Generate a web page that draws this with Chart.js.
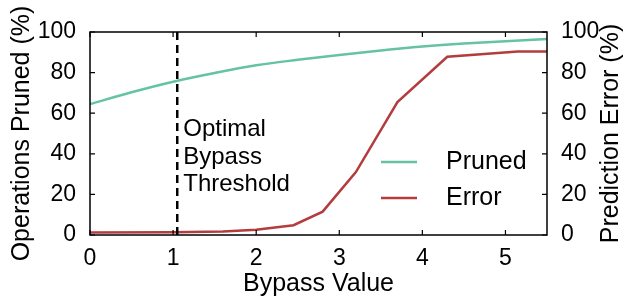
<!DOCTYPE html>
<html>
<head>
<meta charset="utf-8">
<script src="https://cdn.jsdelivr.net/npm/chart.js@4.4.0/dist/chart.umd.min.js"></script>
<style>
    html, body { margin: 0; padding: 0; background: #ffffff; }
    #wrap { width: 634px; height: 297px; }
</style>
</head>
<body>
<div id="wrap"><canvas id="grafico" width="634" height="297"></canvas></div>
<script>
// valores
const prunedX = [0, 0.5, 1.0, 1.5, 2.0, 2.5, 3.0, 3.5, 4.0, 4.5, 5.0, 5.5];
const prunedY = [64.5, 70.3, 75.5, 79.8, 83.6, 86.3, 88.7, 90.9, 92.8, 94.3, 95.5, 96.5];

const errorX = [0, 1.0, 1.6, 2.0, 2.45, 2.8, 3.2, 3.7, 4.3, 5.15, 5.5];
const errorY = [1.2, 1.4, 1.7, 2.6, 4.8, 11.5, 31, 65.5, 87.8, 90.4, 90.4];

const xTicks = [0, 1, 2, 3, 4, 5];
const yTicks = [0, 20, 40, 60, 80, 100];

const limiar = 1.05;
const textoLimiar = ['Optimal', 'Bypass', 'Threshold'];

const legendaNomes = ['Pruned', 'Error'];
const tituloDireita = 'Prediction Error (%)';
const verde = '#66c2a5';
const vermelho = '#b33c3f';

const fonte = 'Liberation Sans, Arial, sans-serif';
Chart.defaults.color = '#000000';
Chart.defaults.font.family = fonte;
Chart.defaults.font.size = 23;

function pares(xs, ys) {
    return xs.map((x, i) => ({ x: x, y: ys[i] }));
}

// moldura, ticks para dentro, linha tracejada, texto e legenda
const extras = {
    id: 'extras',
    afterDraw(chart) {
        const ctx = chart.ctx;
        const a = chart.chartArea;
        const sx = chart.scales.x;
        const sy = chart.scales.y;
        ctx.save();

        // linha tracejada
        const lx = sx.getPixelForValue(limiar);
        ctx.strokeStyle = '#000000';
        ctx.lineWidth = 2.5;
        ctx.setLineDash([8, 5]);
        ctx.beginPath();
        ctx.moveTo(lx, a.top);
        ctx.lineTo(lx, a.bottom);
        ctx.stroke();
        ctx.setLineDash([]);

        // texto
        ctx.fillStyle = '#000000';
        ctx.font = '24px ' + fonte;
        ctx.textAlign = 'left';
        ctx.textBaseline = 'middle';
        textoLimiar.forEach((t, i) => {
            ctx.fillText(t, lx + 6, sy.getPixelForValue(52) + i * 27.5);
        });

        // moldura
        ctx.lineWidth = 1.5;
        ctx.strokeRect(a.left, a.top, a.right - a.left, a.bottom - a.top);

        // ticks
        ctx.lineWidth = 1.2;
        ctx.beginPath();
        xTicks.forEach(v => {
            const p = sx.getPixelForValue(v);
            ctx.moveTo(p, a.bottom); ctx.lineTo(p, a.bottom - 5);
            ctx.moveTo(p, a.top); ctx.lineTo(p, a.top + 5);
        });
        yTicks.forEach(v => {
            const p = sy.getPixelForValue(v);
            ctx.moveTo(a.left, p); ctx.lineTo(a.left + 5, p);
            ctx.moveTo(a.right, p); ctx.lineTo(a.right - 5, p);
        });
        ctx.stroke();

        // legenda
        ctx.font = '25px ' + fonte;
        const cores = [verde, vermelho];
        legendaNomes.forEach((nome, i) => {
            const y = 162 + i * 36;
            ctx.strokeStyle = cores[i];
            ctx.lineWidth = 2.5;
            ctx.beginPath();
            ctx.moveTo(381, y);
            ctx.lineTo(417, y);
            ctx.stroke();
            ctx.fillStyle = '#000000';
            ctx.fillText(nome, 446, y);
        });

        // titulo do eixo direito, lido de baixo para cima
        ctx.translate(611, (a.top + a.bottom) / 2);
        ctx.rotate(-Math.PI / 2);
        ctx.textAlign = 'center';
        ctx.fillText(tituloDireita, 0, 0);

        ctx.restore();
    }
};

const config = {
    type: 'line',
    data: {
        datasets: [
            {
                label: legendaNomes[0],
                data: pares(prunedX, prunedY),
                borderColor: verde,
                backgroundColor: verde,
                borderWidth: 2.5,
                pointRadius: 0,
                cubicInterpolationMode: 'monotone',
                yAxisID: 'y'
            },
            {
                label: legendaNomes[1],
                data: pares(errorX, errorY),
                borderColor: vermelho,
                backgroundColor: vermelho,
                borderWidth: 2.5,
                pointRadius: 0,
                tension: 0,
                yAxisID: 'y2'
            }
        ]
    },
    options: {
        responsive: false,
        animation: false,
        layout: { padding: { top: 32 } },
        plugins: {
            legend: { display: false },
            tooltip: { enabled: false }
        },
        scales: {
            x: {
                type: 'linear',
                min: 0,
                max: 5.5,
                grid: { display: false },
                border: { display: false },
                ticks: { stepSize: 1, includeBounds: false, padding: 2 },
                title: { display: true, text: 'Bypass Value', font: { size: 25 }, padding: { top: 0, bottom: -2 } },
                afterFit(s) { s.height = 62; }
            },
            y: {
                position: 'left',
                min: 0,
                max: 100,
                grid: { display: false },
                border: { display: false },
                ticks: { stepSize: 20, padding: 6 },
                title: { display: true, text: 'Operations Pruned (%)', font: { size: 25 }, padding: { top: 7, bottom: 0 } },
                afterFit(s) { s.width = 90; }
            },
            y2: {
                position: 'right',
                min: 0,
                max: 100,
                grid: { display: false },
                border: { display: false },
                ticks: { stepSize: 20, padding: 6 },
                title: { display: false },
                afterFit(s) { s.width = 87; }
            }
        }
    },
    plugins: [extras]
};

const grafico = new Chart(document.getElementById('grafico'), config);
</script>
</body>
</html>
